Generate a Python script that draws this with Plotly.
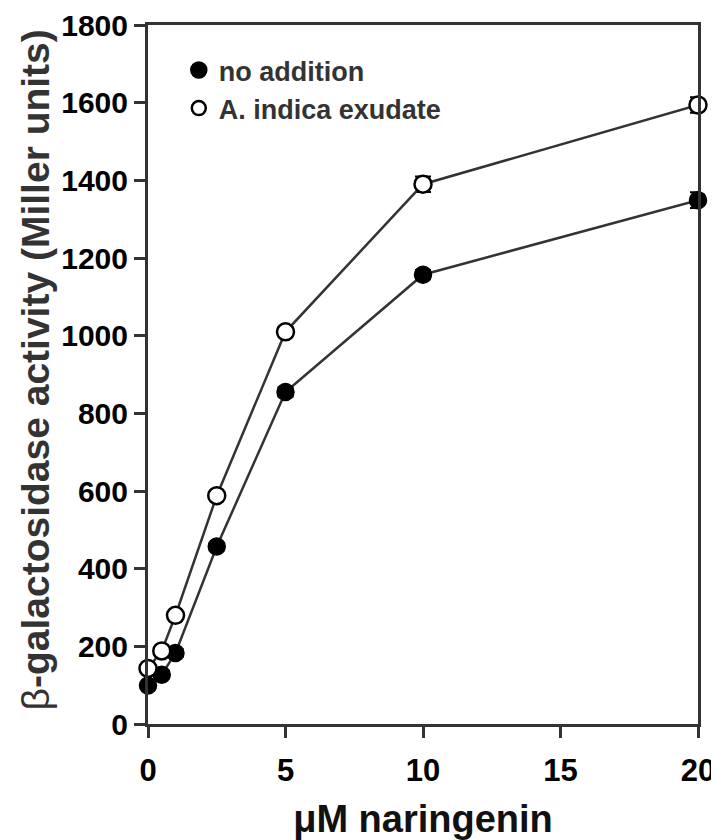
import plotly.graph_objects as go

naringenin_uM = [0, 0.5, 1, 2.5, 5, 10, 20]
no_addition = [99, 127, 183, 457, 855, 1157, 1349]
no_addition_err = [10, 10, 10, 10, 12, 12, 20]
indica_exudate = [143, 188, 280, 588, 1010, 1390, 1594]
indica_exudate_err = [10, 10, 10, 10, 12, 20, 20]

x_ticks = [0, 5, 10, 15, 20]
y_ticks = [0, 200, 400, 600, 800, 1000, 1200, 1400, 1600, 1800]

LINE = "#333333"
FONT = "Liberation Sans, Arial, sans-serif"

fig = go.Figure()

fig.add_trace(go.Scatter(
    x=naringenin_uM, y=no_addition, mode="lines+markers", showlegend=False,
    line=dict(color=LINE, width=2.5),
    marker=dict(symbol="circle", size=17, color="black", line=dict(color="black", width=1.5)),
    error_y=dict(type="data", array=no_addition_err, color="black", thickness=2, width=8),
    cliponaxis=False,
))
fig.add_trace(go.Scatter(
    x=naringenin_uM, y=indica_exudate, mode="lines+markers", showlegend=False,
    line=dict(color=LINE, width=2.5),
    marker=dict(symbol="circle", size=17, color="white", line=dict(color="black", width=2.5)),
    error_y=dict(type="data", array=indica_exudate_err, color="black", thickness=2, width=8),
    cliponaxis=False,
))

# legend-only entries (markers only, as in reference)
fig.add_trace(go.Scatter(
    x=[None], y=[None], mode="markers", name="<b>no addition</b>",
    marker=dict(symbol="circle", size=16, color="black", line=dict(color="black", width=1.5)),
))
fig.add_trace(go.Scatter(
    x=[None], y=[None], mode="markers", name="<b>A. indica exudate</b>",
    marker=dict(symbol="circle", size=14, color="white", line=dict(color="black", width=2.5)),
))

fig.update_layout(
    width=711, height=832,
    margin=dict(l=140, r=21, t=17, b=116),
    plot_bgcolor="white", paper_bgcolor="white",
    font=dict(family=FONT, color="#222222"),
    legend=dict(
        x=0.056, y=0.970, xanchor="left", yanchor="top",
        font=dict(family=FONT, size=27, color="#333333"),
        bgcolor="rgba(0,0,0,0)", tracegroupgap=0,
        itemsizing="trace",
    ),
    xaxis=dict(
        range=[0, 20], tickvals=x_ticks, ticktext=[str(v) for v in x_ticks],
        showline=True, linecolor=LINE, linewidth=3, mirror=True,
        ticks="outside", ticklen=11, tickwidth=3, tickcolor=LINE,
        showgrid=False, zeroline=False, automargin=False,
        tickfont=dict(family=FONT, size=31, color="black", weight="bold"),
        ticklabelstandoff=6, ticklabeloverflow="allow",
        title=dict(text="<b>μM naringenin</b>", font=dict(family=FONT, size=38, color="#111111"),
                   standoff=20),
    ),
    yaxis=dict(
        range=[0, 1800], tickvals=y_ticks, ticktext=[str(v) for v in y_ticks],
        showline=True, linecolor=LINE, linewidth=3, mirror=True,
        ticks="outside", ticklen=11, tickwidth=3, tickcolor=LINE,
        showgrid=False, zeroline=False, automargin=False,
        tickfont=dict(family=FONT, size=30, color="black", weight="bold"),
        ticklabelstandoff=0, ticklabeloverflow="allow",
    ),
    annotations=[dict(
        text="β<b>-galactosidase activity (Miller units)</b>",
        xref="paper", yref="paper", x=0, y=0.5, xanchor="center", yanchor="middle",
        xshift=-113, yshift=4, textangle=-90, showarrow=False,
        font=dict(family=FONT, size=39, color="#333333"),
    )],
)

fig.write_html("out.html")
